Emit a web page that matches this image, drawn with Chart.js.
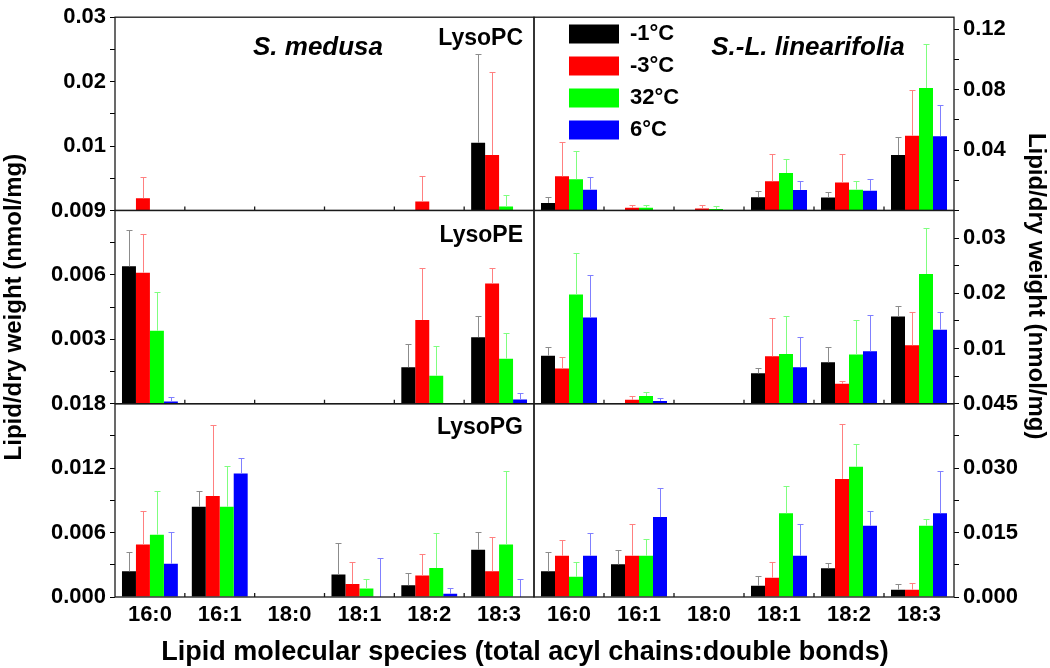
<!DOCTYPE html>
<html>
<head>
<meta charset="utf-8">
<script src="https://cdn.jsdelivr.net/npm/chart.js@4.4.1/dist/chart.umd.min.js"></script>
<style>
  html, body { margin: 0; padding: 0; background: #fff; }
  #wrap { position: relative; width: 1050px; height: 668px; }
  #wrap canvas { position: absolute; left: 0; top: 0; }
  #xTitle {
    position: absolute; left: 0; top: 636px; width: 1050px;
    text-align: center; line-height: 30px; color: #000;
    font: bold 27px 'Liberation Sans', Arial, sans-serif;
  }
</style>
</head>
<body>
<div id="wrap">
  <canvas id="leftChart" width="1050" height="668"></canvas>
  <canvas id="rightChart" width="1050" height="668"></canvas>
  <div id="xTitle">Lipid molecular species (total acyl chains:double bonds)</div>
</div>
<script>
Chart.defaults.font.family = "'Liberation Sans', Arial, sans-serif";
Chart.defaults.color = '#000';

const categories = ['16:0', '16:1', '18:0', '18:1', '18:2', '18:3'];
const temps = ['-1°C', '-3°C', '32°C', '6°C'];
const classNames = ['LysoPC', 'LysoPE', 'LysoPG'];
const species = ['S. medusa', 'S.-L. linearifolia'];
const yTitle = 'Lipid/dry weight (nmol/mg)';

// rows = temps (-1, -3, 32, 6 °C), columns = categories
// S. medusa
const pcMedusa = [
  [0, 0, 0, 0, 0, 0.0105],
  [0.0019, 0, 0, 0, 0.0014, 0.0086],
  [0, 0, 0, 0, 0, 0.0006],
  [0, 0, 0, 0, 0, 0]
];
const pcMedusaErr = [
  [0, 0, 0, 0, 0, 0.0138],
  [0.0033, 0, 0, 0, 0.0040, 0.0129],
  [0, 0, 0, 0, 0, 0.0018],
  [0, 0, 0, 0, 0, 0]
];
const peMedusa = [
  [0.0064, 0, 0, 0, 0.0017, 0.0031],
  [0.0061, 0, 0, 0, 0.0039, 0.0056],
  [0.0034, 0, 0, 0, 0.0013, 0.0021],
  [0.0001, 0, 0, 0, 0, 0.0002]
];
const peMedusaErr = [
  [0.0017, 0, 0, 0, 0.0011, 0.0010],
  [0.0018, 0, 0, 0, 0.0024, 0.0007],
  [0.0018, 0, 0, 0, 0.0014, 0.0012],
  [0.0002, 0, 0, 0, 0, 0.0003]
];
const pgMedusa = [
  [0.0024, 0.0084, 0, 0.0021, 0.0011, 0.0044],
  [0.0049, 0.0094, 0, 0.0012, 0.0020, 0.0024],
  [0.0058, 0.0084, 0, 0.0008, 0.0027, 0.0049],
  [0.0031, 0.0115, 0, 0, 0.0003, 0]
];
const pgMedusaErr = [
  [0.0018, 0.0015, 0, 0.0029, 0.0011, 0.0017],
  [0.0031, 0.0066, 0, 0.0021, 0.0020, 0.0032],
  [0.0041, 0.0038, 0, 0.0009, 0.0033, 0.0068],
  [0.0030, 0.0014, 0, 0.0036, 0.0005, 0.0017]
];

// S.-L. linearifolia
const pcLinear = [
  [0.0050, 0.0003, 0, 0.0088, 0.0086, 0.0367],
  [0.0226, 0.0018, 0.0013, 0.0193, 0.0185, 0.0495],
  [0.0207, 0.0018, 0.0009, 0.0248, 0.0138, 0.0811],
  [0.0138, 0.0003, 0.0003, 0.0136, 0.0130, 0.0492]
];
const pcLinearErr = [
  [0.0038, 0, 0, 0.0044, 0.0033, 0.0117],
  [0.0229, 0.0017, 0.0024, 0.0183, 0.0189, 0.0301],
  [0.0186, 0.0015, 0.0018, 0.0092, 0.0060, 0.0294],
  [0.0084, 0, 0, 0.0057, 0.0081, 0.0209]
];
const peLinear = [
  [0.0087, 0.0001, 0, 0.0055, 0.0075, 0.0158],
  [0.0064, 0.0007, 0, 0.0086, 0.0036, 0.0106],
  [0.0198, 0.0014, 0, 0.0090, 0.0089, 0.0235],
  [0.0156, 0.0005, 0, 0.0066, 0.0095, 0.0134]
];
const peLinearErr = [
  [0.0016, 0.0001, 0, 0.0010, 0.0028, 0.0019],
  [0.0020, 0.0007, 0, 0.0069, 0.0005, 0.0061],
  [0.0075, 0.0008, 0, 0.0069, 0.0063, 0.0084],
  [0.0078, 0.0005, 0, 0.0054, 0.0065, 0.0033]
];
const pgLinear = [
  [0.0060, 0.0076, 0, 0.0026, 0.0067, 0.0017],
  [0.0096, 0.0096, 0, 0.0045, 0.0275, 0.0017],
  [0.0047, 0.0096, 0, 0.0195, 0.0303, 0.0166],
  [0.0096, 0.0186, 0, 0.0096, 0.0166, 0.0195]
];
const pgLinearErr = [
  [0.0044, 0.0034, 0, 0.0022, 0.0012, 0.0014],
  [0.0037, 0.0075, 0, 0.0037, 0.0128, 0.0016],
  [0.0035, 0.0039, 0, 0.0063, 0.0054, 0.0015],
  [0.0054, 0.0067, 0, 0.0075, 0.0035, 0.0098]
];

// axis ticks (empty label = minor tick)
const pcMedusaTicks = [0, 0.005, 0.01, 0.015, 0.02, 0.025, 0.03];
const pcMedusaLabels = ['', '', '0.01', '', '0.02', '', '0.03'];
const peMedusaTicks = [0, 0.0015, 0.003, 0.0045, 0.006, 0.0075, 0.009];
const peMedusaLabels = ['', '', '0.003', '', '0.006', '', '0.009'];
const pgMedusaTicks = [0, 0.003, 0.006, 0.009, 0.012, 0.015, 0.018];
const pgMedusaLabels = ['0.000', '', '0.006', '', '0.012', '', '0.018'];
const pcLinearTicks = [0, 0.02, 0.04, 0.06, 0.08, 0.10, 0.12];
const pcLinearLabels = ['', '', '0.04', '', '0.08', '', '0.12'];
const peLinearTicks = [0, 0.005, 0.01, 0.015, 0.02, 0.025, 0.03];
const peLinearLabels = ['', '', '0.01', '', '0.02', '', '0.03'];
const pgLinearTicks = [0, 0.0075, 0.015, 0.0225, 0.03, 0.0375, 0.045];
const pgLinearLabels = ['0.000', '', '0.015', '', '0.030', '', '0.045'];

const barColors = ['#000000', '#ff0000', '#00ff00', '#0000ff'];
const errColors = ['#8c8c8c', '#ff8080', '#7fff7f', '#8080ff'];
const tickFont = { size: 22, weight: 'bold' };

// frames, error bars and panel captions
const panelPlugin = {
  id: 'panels',
  afterLayout(chart) {
    if (chart.legend && chart.options.plugins.legend.display) {
      chart.legend.left += 25;
      chart.legend.top += 13;
    }
  },
  afterDatasetsDraw(chart) {
    const ctx = chart.ctx;
    ctx.save();
    ctx.lineWidth = 1;
    chart.data.datasets.forEach((ds, i) => {
      const meta = chart.getDatasetMeta(i);
      const ys = chart.scales[ds.yAxisID];
      ctx.strokeStyle = ds.errColor;
      meta.data.forEach((bar, j) => {
        const e = ds.errors[j];
        if (!e) return;
        const x = Math.round(bar.x) + 0.5;
        const y0 = ys.getPixelForValue(ds.data[j]);
        const y1 = Math.round(ys.getPixelForValue(ds.data[j] + e)) + 0.5;
        ctx.beginPath();
        ctx.moveTo(x, y0);
        ctx.lineTo(x, y1);
        ctx.moveTo(x - 3, y1);
        ctx.lineTo(x + 3, y1);
        ctx.stroke();
      });
    });
    ctx.restore();
  },
  afterDraw(chart, args, opts) {
    const { ctx, chartArea } = chart;
    const xs = chart.scales.x;
    ctx.save();
    ctx.strokeStyle = '#1a1a1a';
    ctx.lineWidth = 1.3;
    opts.ids.forEach((id, k) => {
      const s = chart.scales[id];
      ctx.strokeRect(chartArea.left, s.top, chartArea.right - chartArea.left, s.bottom - s.top);
      // small inward marks between categories
      ctx.beginPath();
      for (let i = 1; i < categories.length; i++) {
        const bx = (xs.getPixelForValue(i - 1) + xs.getPixelForValue(i)) / 2;
        ctx.moveTo(bx, s.bottom);
        ctx.lineTo(bx, s.bottom - 4);
      }
      ctx.stroke();

      ctx.fillStyle = '#000';
      if (opts.showClass) {
        ctx.font = "bold 23px 'Liberation Sans', Arial, sans-serif";
        ctx.textAlign = 'right';
        ctx.textBaseline = 'alphabetic';
        ctx.fillText(classNames[k], chartArea.right - 11, s.top + opts.classOffsets[k]);
      }
      if (k === 0) {
        ctx.font = "italic bold 26px 'Liberation Sans', Arial, sans-serif";
        ctx.textAlign = 'center';
        ctx.textBaseline = 'alphabetic';
        ctx.fillText(opts.species, chartArea.left + opts.speciesX, s.top + 38);
      }
    });
    // right-hand axis title sits a bit above the middle in the original
    if (opts.sideTitle) {
      ctx.translate(chart.width - 14, chartArea.top + 269);
      ctx.rotate(Math.PI / 2);
      ctx.font = "bold 24px 'Liberation Sans', Arial, sans-serif";
      ctx.textAlign = 'center';
      ctx.textBaseline = 'middle';
      ctx.fillText(yTitle, 0, 0);
    }
    ctx.restore();
  }
};

function buildColumn(canvasId, side, panels, cfg) {
  const datasets = [];
  const scales = {
    x: {
      type: 'category',
      labels: categories,
      offset: true,
      grid: { display: false, drawTicks: false },
      border: { display: false },
      ticks: { font: tickFont, padding: 5, maxRotation: 0, autoSkip: false },
      afterFit: (s) => { s.height = 71; }
    }
  };
  const ids = [];
  panels.forEach((p, k) => {
    const id = 'y' + k;
    ids.push(id);
    p.vals.forEach((row, s) => {
      datasets.push({
        label: temps[s],
        data: row,
        errors: p.errs[s],
        yAxisID: id,
        stack: 't' + s,
        backgroundColor: barColors[s],
        borderWidth: 0,
        errColor: errColors[s],
        categoryPercentage: 0.8,
        barPercentage: 1
      });
    });
    scales[id] = {
      type: 'linear',
      position: side,
      stack: side,
      stackWeight: 1,
      weight: side === 'left' ? panels.length - k : k + 1,
      min: 0,
      max: p.max,
      stacked: false,
      afterBuildTicks: (s) => { s.ticks = p.ticks.map(v => ({ value: v })); },
      afterFit: (s) => { s.width = cfg.axisWidth; },
      ticks: { font: tickFont, padding: 4, autoSkip: false, callback: (v, i) => p.labels[i] },
      grid: { drawOnChartArea: false, drawTicks: true, tickLength: 5, color: '#000', lineWidth: 1 },
      border: { display: false },
      title: {
        display: cfg.axisTitle && k === 1,
        text: yTitle,
        font: { size: 24, weight: 'bold' },
        padding: { top: 0, bottom: 0 }
      }
    };
  });

  return new Chart(document.getElementById(canvasId), {
    type: 'bar',
    data: { labels: categories, datasets: datasets },
    options: {
      responsive: false,
      animation: false,
      events: [],
      layout: { padding: cfg.padding },
      scales: scales,
      plugins: {
        tooltip: { enabled: false },
        legend: cfg.legend,
        panels: {
          ids: ids,
          showClass: cfg.showClass,
          classOffsets: [28, 32, 30],
          species: cfg.species,
          speciesX: cfg.speciesX,
          sideTitle: !cfg.axisTitle
        }
      }
    },
    plugins: [panelPlugin]
  });
}

buildColumn('leftChart', 'left', [
  { vals: pcMedusa, errs: pcMedusaErr, ticks: pcMedusaTicks, labels: pcMedusaLabels, max: 0.03 },
  { vals: peMedusa, errs: peMedusaErr, ticks: peMedusaTicks, labels: peMedusaLabels, max: 0.009 },
  { vals: pgMedusa, errs: pgMedusaErr, ticks: pgMedusaTicks, labels: pgMedusaLabels, max: 0.018 }
], {
  axisWidth: 115,
  axisTitle: true,
  padding: { left: 0, right: 516, top: 12, bottom: 0 },
  legend: { display: false },
  showClass: true,
  species: species[0],
  speciesX: 203
});

buildColumn('rightChart', 'right', [
  { vals: pcLinear, errs: pcLinearErr, ticks: pcLinearTicks, labels: pcLinearLabels, max: 0.128 },
  { vals: peLinear, errs: peLinearErr, ticks: peLinearTicks, labels: peLinearLabels, max: 0.035 },
  { vals: pgLinear, errs: pgLinearErr, ticks: pgLinearTicks, labels: pgLinearLabels, max: 0.045 }
], {
  axisWidth: 96,
  axisTitle: false,
  padding: { left: 534, right: 0, top: 12, bottom: 0 },
  legend: {
    display: true,
    position: 'chartArea',
    align: 'start',
    labels: {
      filter: (item) => item.datasetIndex < 4,
      boxWidth: 50,
      boxHeight: 19,
      padding: 10,
      color: '#000',
      font: { size: 22, weight: 'bold' }
    }
  },
  showClass: false,
  species: species[1],
  speciesX: 274
});
</script>
</body>
</html>
